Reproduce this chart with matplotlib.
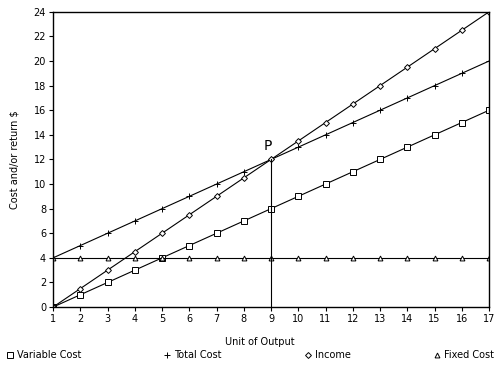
import matplotlib.pyplot as plt
from matplotlib.lines import Line2D

# break-even data
units = list(range(1, 18))
variable_cost = [0, 1, 2, 3, 4, 5, 6, 7, 8, 9, 10, 11, 12, 13, 14, 15, 16]
total_cost = [4, 5, 6, 7, 8, 9, 10, 11, 12, 13, 14, 15, 16, 17, 18, 19, 20]
income = [0, 1.5, 3, 4.5, 6, 7.5, 9, 10.5, 12, 13.5, 15, 16.5, 18, 19.5, 21, 22.5, 24]
fixed_cost = [4] * 17
break_even = (9, 12)

fig = plt.figure(figsize=(5, 3.7), dpi=100)
ax = fig.add_axes([0.106, 0.17, 0.872, 0.798])

kw = dict(color="black", lw=0.8, markerfacecolor="white", markeredgewidth=0.7)
ax.plot(units, variable_cost, marker="s", ms=4, **kw)
ax.plot(units, total_cost, marker="+", ms=5, **kw)
ax.plot(units, income, marker="D", ms=3, **kw)
ax.plot(units, fixed_cost, marker="^", ms=3.5, **kw)

# break-even point
ax.plot([break_even[0], break_even[0]], [0, break_even[1]], color="black", lw=0.8)
ax.text(break_even[0] - 0.1, break_even[1] + 0.5, "P", fontsize=10, ha="center", va="bottom")

ax.set_xlim(1, 17)
ax.set_ylim(0, 24)
ax.set_xticks(units)
ax.set_yticks(range(0, 25, 2))
ax.tick_params(labelsize=7, length=3, width=0.8, direction="out", pad=2)
for s in ax.spines.values():
    s.set_linewidth(1.0)

ax.set_xlabel("Unit of Output", fontsize=7)
ax.xaxis.set_label_coords(0.475, -0.1)
ax.set_ylabel("Cost and/or return $", fontsize=7, labelpad=10)

handles = [
    Line2D([], [], ls="none", marker="s", ms=4, mfc="white", mec="black", mew=0.7),
    Line2D([], [], ls="none", marker="+", ms=5, mec="black", mew=0.7),
    Line2D([], [], ls="none", marker="D", ms=3, mfc="white", mec="black", mew=0.7),
    Line2D([], [], ls="none", marker="^", ms=3.5, mfc="white", mec="black", mew=0.7),
]
labels = ["Variable Cost", "Total Cost", "Income", "Fixed Cost"]
fig.legend(handles, labels, loc="lower left", bbox_to_anchor=(0.0, 0.01, 1.0, 0.08),
           ncol=4, mode="expand", frameon=False, fontsize=7, handlelength=0.8,
           handletextpad=0.3, borderaxespad=0.2)

plt.savefig("out.png", dpi=100)
